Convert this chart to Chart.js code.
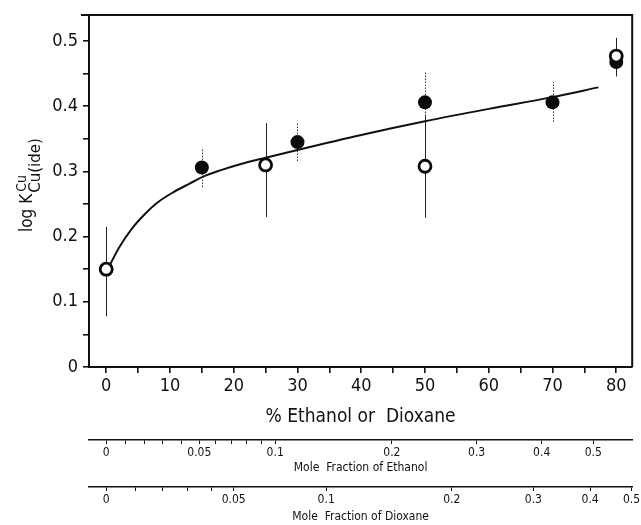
<!DOCTYPE html>
<html><head><meta charset="utf-8">
<script src="https://cdn.jsdelivr.net/npm/chart.js@4.4.0/dist/chart.umd.min.js"></script>
<style>html,body{margin:0;padding:0;background:#fff;} #wrap{width:641px;height:525px;}</style>
</head><body><div id="wrap"><canvas id="c"></canvas></div>
<script>
// Filled circles (one solvent) with dotted error bars
const filledX = [0, 15, 30, 50, 70, 80];
const filledY = [0.15, 0.306, 0.345, 0.406, 0.406, 0.468];
const filledErrLow = [0.078, 0.276, 0.316, 0.362, 0.376, 0.446];
const filledErrHigh = [0.215, 0.336, 0.375, 0.454, 0.437, 0.49];
// Open circles (other solvent) with solid error bars
const openX = [0, 25, 50, 80];
const openY = [0.15, 0.31, 0.308, 0.477];
const openErrLow = [0.078, 0.23, 0.229, 0.446];
const openErrHigh = [0.215, 0.374, 0.387, 0.505];
// Fitted curve
const curveX = [0.6, 2, 4, 6, 8, 10.5, 13, 15.2, 18, 21, 25, 30, 40, 50, 60, 70, 77.2];
const curveY = [0.157, 0.183, 0.212, 0.234, 0.252, 0.268, 0.281, 0.292, 0.302, 0.311, 0.321, 0.333, 0.356, 0.377, 0.396, 0.414, 0.429];
// Axis ticks
const percentTicks = [0, 5, 10, 15, 20, 25, 30, 35, 40, 45, 50, 55, 60, 65, 70, 75, 80];
const percentLabels = ['0', '', '10', '', '20', '', '30', '', '40', '', '50', '', '60', '', '70', '', '80'];
const yTicks = [0, 0.05, 0.1, 0.15, 0.2, 0.25, 0.3, 0.35, 0.4, 0.45, 0.5];
const yLabels = ['0', '', '0.1', '', '0.2', '', '0.3', '', '0.4', '', '0.5'];
// Mole fraction scales (labels and their positions in % solvent)
const ethanolFractions = ['0', '0.05', '0.1', '0.2', '0.3', '0.4', '0.5'];
const ethanolPercent = [0, 14.6, 26.5, 44.8, 58.1, 68.3, 76.4];
const ethanolMinorPercent = [3.0, 6.0, 8.9, 11.8, 17.1, 19.6, 22.0, 24.3];
const dioxaneFractions = ['0', '0.05', '0.1', '0.2', '0.3', '0.4', '0.5'];
const dioxanePercent = [0, 20.0, 34.5, 54.2, 67.0, 75.9, 82.4];
const dioxaneMinorPercent = [4.6, 8.8, 12.8, 16.5];

const X_MIN = -2.7, X_MAX = 82.5, Y_MIN = 0, Y_MAX = 0.54;
const FONT = '"DejaVu Sans Condensed", "DejaVu Sans", sans-serif';

function buildMoleTicks(major, labels, minor) {
  const t = major.map((v, i) => ({ value: v, label: labels[i] }));
  minor.forEach(v => t.push({ value: v, label: '' }));
  t.sort((a, b) => a.value - b.value);
  return t;
}

const framePlugin = {
  id: 'frame',
  beforeDatasetsDraw(chart) {
    const { ctx, chartArea: a, scales } = chart;
    const xs = scales.x, ys = scales.y;
    ctx.save();
    ctx.strokeStyle = '#111';
    ctx.lineWidth = 2;
    ctx.beginPath();
    ctx.moveTo(a.left - 8, a.top);
    ctx.lineTo(a.right, a.top);
    ctx.lineTo(a.right, a.bottom);
    ctx.stroke();
    // error bars
    ctx.lineWidth = 1;
    ctx.setLineDash([1.5, 1.5]);
    ctx.strokeStyle = '#333';
    filledX.forEach((x, i) => {
      const px = Math.round(xs.getPixelForValue(x)) + 0.5;
      ctx.beginPath();
      ctx.moveTo(px, ys.getPixelForValue(filledErrLow[i]));
      ctx.lineTo(px, ys.getPixelForValue(filledErrHigh[i]));
      ctx.stroke();
    });
    ctx.setLineDash([]);
    ctx.strokeStyle = '#222';
    openX.forEach((x, i) => {
      const px = Math.round(xs.getPixelForValue(x)) + 0.5;
      ctx.beginPath();
      ctx.moveTo(px, ys.getPixelForValue(openErrLow[i]));
      ctx.lineTo(px, ys.getPixelForValue(openErrHigh[i]));
      ctx.stroke();
    });
    ctx.restore();
  },
  afterDraw(chart) {
    const { ctx } = chart;
    ctx.save();
    ctx.fillStyle = '#111';
    ctx.translate(32, 232);
    ctx.rotate(-Math.PI / 2);
    ctx.textBaseline = 'alphabetic';
    ctx.font = '17px ' + FONT;
    ctx.fillText('log K', 0, 0);
    const w = ctx.measureText('log K').width;
    ctx.font = '14px ' + FONT;
    ctx.fillText('Cu', w + 2, -6);
    ctx.font = '15px "DejaVu Sans", sans-serif';
    ctx.fillText('Cu(ide)', w + 1, 8);
    ctx.restore();
  }
};

function fitX(h) {
  return function (s) { s.height = h; s.paddingLeft = 0; s.paddingRight = 0; };
}

new Chart(document.getElementById('c'), {
  data: {
    datasets: [
      {
        type: 'line', order: 3,
        data: curveX.map((x, i) => ({ x, y: curveY[i] })),
        borderColor: '#111', borderWidth: 2, pointRadius: 0,
        cubicInterpolationMode: 'monotone', fill: false
      },
      {
        type: 'scatter', order: 2,
        data: filledX.map((x, i) => ({ x, y: filledY[i] })),
        backgroundColor: '#0a0a0a', borderColor: '#0a0a0a',
        pointRadius: 7, borderWidth: 0
      },
      {
        type: 'scatter', order: 1,
        data: openX.map((x, i) => ({ x, y: openY[i] })),
        backgroundColor: '#fff', borderColor: '#0a0a0a',
        pointRadius: 6, borderWidth: 2.8
      }
    ]
  },
  options: {
    responsive: true, maintainAspectRatio: false, animation: false,
    layout: { padding: { top: 15, right: 7, left: 0, bottom: 0 } },
    plugins: { legend: { display: false }, tooltip: { enabled: false } },
    scales: {
      x: {
        type: 'linear', position: 'bottom', min: X_MIN, max: X_MAX,
        afterBuildTicks: s => { s.ticks = percentTicks.map(v => ({ value: v })); },
        afterFit: fitX(73),
        border: { display: true, color: '#111', width: 2 },
        grid: { drawOnChartArea: false, tickLength: 6, color: '#111', lineWidth: 1.6 },
        ticks: {
          autoSkip: false, maxRotation: 0, padding: 3, color: '#111',
          font: { family: FONT, size: 18 },
          callback: (v, i) => percentLabels[i]
        },
        title: {
          display: true, text: '% Ethanol or  Dioxane', color: '#111',
          font: { family: FONT, size: 19 }, padding: { top: 0, bottom: 12 }
        }
      },
      x2: {
        type: 'linear', position: 'bottom', min: X_MIN, max: X_MAX,
        afterBuildTicks: s => { s.ticks = buildMoleTicks(ethanolPercent, ethanolFractions, ethanolMinorPercent); },
        afterFit: fitX(47),
        border: { display: true, color: '#111', width: 1.5 },
        grid: { drawOnChartArea: false, tickLength: 4, color: '#111', lineWidth: 1 },
        ticks: {
          autoSkip: false, maxRotation: 0, padding: 2, color: '#111',
          font: { family: FONT, size: 12 },
          callback: (v, i, t) => t[i].label
        },
        title: {
          display: true, text: 'Mole  Fraction of Ethanol', color: '#111',
          font: { family: FONT, size: 12 }, padding: { top: 0, bottom: 12 }
        }
      },
      x3: {
        type: 'linear', position: 'bottom', min: X_MIN, max: X_MAX,
        afterBuildTicks: s => { s.ticks = buildMoleTicks(dioxanePercent, dioxaneFractions, dioxaneMinorPercent); },
        afterFit: fitX(38),
        border: { display: true, color: '#111', width: 1.5 },
        grid: { drawOnChartArea: false, tickLength: 4, color: '#111', lineWidth: 1 },
        ticks: {
          autoSkip: false, maxRotation: 0, padding: 2, color: '#111',
          font: { family: FONT, size: 12 },
          callback: (v, i, t) => t[i].label
        },
        title: {
          display: true, text: 'Mole  Fraction of Dioxane', color: '#111',
          font: { family: FONT, size: 12 }, padding: { top: 0, bottom: 1 }
        }
      },
      y: {
        type: 'linear', position: 'left', min: Y_MIN, max: Y_MAX,
        afterBuildTicks: s => { s.ticks = yTicks.map(v => ({ value: v })); },
        afterFit: s => { s.width = 89; s.paddingTop = 0; s.paddingBottom = 0; },
        border: { display: true, color: '#111', width: 2 },
        grid: { drawOnChartArea: false, tickLength: 6, color: '#111', lineWidth: 1.6 },
        ticks: {
          autoSkip: false, padding: 5, color: '#111',
          font: { family: FONT, size: 18 },
          callback: (v, i) => yLabels[i]
        }
      }
    }
  },
  plugins: [framePlugin]
});
</script>
</body></html>
